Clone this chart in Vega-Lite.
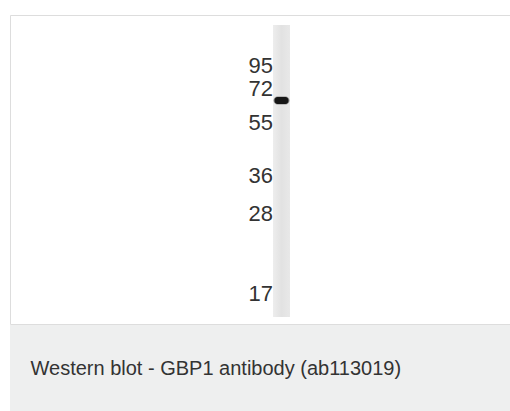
{
  "$schema": "https://vega.github.io/schema/vega-lite/v6.json",
  "background": "white",
  "padding": {"left": 9, "top": 14, "right": 0, "bottom": 0},
  "spacing": 0,
  "config": {"view": {"stroke": null}, "font": "Liberation Sans"},
  "datasets": {
    "lanes": [{"lane": "GBP1", "start": 0, "end": 1}],
    "bands": [{"lane": "GBP1", "kDa": 65, "top": 0.245, "bottom": 0.272}],
    "markers": [
      {"lane": "ladder", "kDa": 95, "rf": 0.140},
      {"lane": "ladder", "kDa": 72, "rf": 0.219},
      {"lane": "ladder", "kDa": 55, "rf": 0.336},
      {"lane": "ladder", "kDa": 36, "rf": 0.517},
      {"lane": "ladder", "kDa": 28, "rf": 0.647},
      {"lane": "ladder", "kDa": 17, "rf": 0.921}
    ]
  },
  "vconcat": [
    {
      "width": 500,
      "height": 309,
      "view": {"fill": "white", "stroke": "#dddddd", "strokeWidth": 1},
      "encoding": {
        "x": {
          "field": "lane", "type": "nominal",
          "scale": {"type": "band", "domain": ["ladder", "GBP1"], "range": [246, 280], "paddingInner": 0, "paddingOuter": 0, "round": false},
          "axis": null
        }
      },
      "layer": [
        {
          "data": {"name": "lanes"},
          "mark": {"type": "rect", "fill": {"x1": 0, "y1": 0, "x2": 1, "y2": 0, "gradient": "linear", "stops": [{"offset": 0, "color": "#ededed"}, {"offset": 0.5, "color": "#e2e2e2"}, {"offset": 1, "color": "#e8e8e8"}]}},
          "encoding": {
            "y": {"field": "start", "type": "quantitative", "scale": {"domain": [-0.0342, 1.024], "reverse": true, "nice": false, "zero": false}, "axis": null},
            "y2": {"field": "end"}
          }
        },
        {
          "data": {"name": "bands"},
          "mark": {"type": "rect", "fill": "#555555", "opacity": 0.6, "cornerRadius": 4, "width": {"band": 0.94}},
          "encoding": {
            "y": {"field": "top", "type": "quantitative"},
            "y2": {"field": "bottom"}
          }
        },
        {
          "data": {"name": "bands"},
          "mark": {"type": "rect", "fill": "#151515", "cornerRadius": 3, "width": {"band": 0.82}, "yOffset": 0.5, "y2Offset": -0.5},
          "encoding": {
            "y": {"field": "top", "type": "quantitative"},
            "y2": {"field": "bottom"}
          }
        },
        {
          "data": {"name": "markers"},
          "mark": {"type": "text", "align": "right", "baseline": "middle", "fontSize": 22, "font": "Liberation Sans", "color": "#333333", "dx": 0},
          "encoding": {
            "x": {"field": "lane", "type": "nominal", "bandPosition": 1},
            "y": {"field": "rf", "type": "quantitative"},
            "text": {"field": "kDa", "type": "quantitative"}
          }
        }
      ]
    },
    {
      "width": 500,
      "height": 88,
      "view": {"fill": "#eeefef", "stroke": null},
      "title": {"text": "Western blot - GBP1 antibody (ab113019)", "orient": "top", "anchor": "start", "frame": "group", "offset": -70, "dx": 20.5, "baseline": "alphabetic", "fontSize": 20, "fontWeight": "normal", "font": "Liberation Sans", "color": "#333333"},
      "data": {"values": [{"k": 0}]},
      "mark": {"type": "text", "opacity": 0},
      "encoding": {"text": {"value": ""}}
    }
  ]
}
